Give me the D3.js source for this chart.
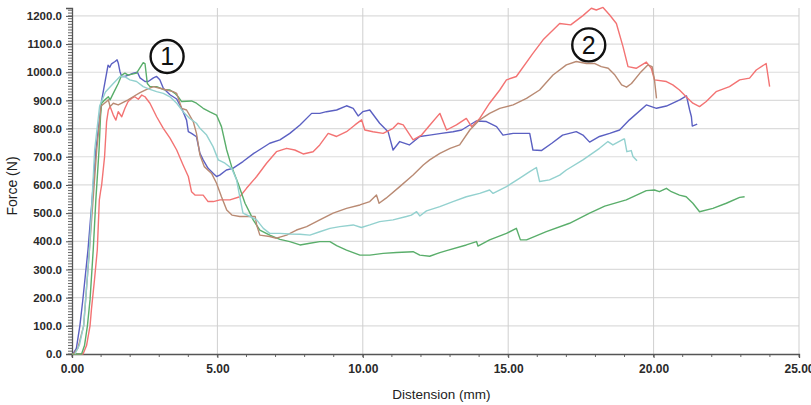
<!DOCTYPE html>
<html>
<head>
<meta charset="utf-8">
<script src="https://cdn.jsdelivr.net/npm/d3@7"></script>
<style>
  body { margin: 0; background: #fff; }
  svg text { font-family: "Liberation Sans Narrow", "Liberation Sans", Arial, sans-serif; }
</style>
</head>
<body>
<div id="chart"></div>
<script>
// distension (mm), force (N)
const blueData = [[0.03,0],[0.15,20],[0.27,100],[0.37,190],[0.55,370],[0.69,547],[0.82,725],[1.02,900],[1.24,1025],[1.3,1018],[1.36,1030],[1.48,1038],[1.55,1044],[1.59,1033],[1.65,1002],[1.71,985],[1.82,985],[1.94,990],[2.11,997],[2.25,1000],[2.34,980],[2.51,967],[2.62,967],[2.8,980],[2.91,985],[3.02,973],[3.14,943],[3.37,920],[3.6,905],[3.77,872],[3.94,830],[4.0,789],[4.11,783],[4.28,771],[4.4,712],[4.51,689],[4.68,659],[4.86,641],[4.97,630],[5.08,635],[5.31,653],[5.53,659],[5.88,683],[6.25,712],[6.8,748],[7.15,760],[7.49,783],[7.84,813],[8.24,854],[8.52,854],[8.75,860],[9.1,866],[9.44,881],[9.67,872],[9.84,845],[10.0,860],[10.24,866],[10.58,819],[10.87,789],[11.04,724],[11.27,754],[11.6,742],[11.96,772],[12.3,777],[12.7,783],[13.1,789],[13.4,795],[13.9,827],[14.25,825],[14.6,807],[14.82,777],[15.17,783],[15.74,783],[15.85,724],[16.14,722],[16.5,748],[16.87,777],[17.34,789],[17.57,777],[17.8,752],[18.14,772],[18.49,783],[18.83,795],[19.17,831],[19.75,884],[20.1,872],[20.44,880],[20.9,902],[21.13,916],[21.24,866],[21.3,842],[21.33,809],[21.5,816]];

const redData = [[0,0],[0.38,0],[0.5,30],[0.62,100],[0.67,160],[0.77,260],[0.87,370],[0.94,547],[0.99,582],[1.02,600],[1.12,700],[1.19,825],[1.25,866],[1.31,878],[1.42,848],[1.51,830],[1.59,860],[1.71,842],[1.82,872],[1.93,896],[2.05,907],[2.16,913],[2.28,904],[2.4,919],[2.51,913],[2.68,890],[2.91,842],[3.14,801],[3.37,766],[3.6,724],[3.82,671],[4.0,630],[4.11,576],[4.23,564],[4.51,564],[4.68,541],[4.86,541],[5.09,547],[5.43,547],[5.77,558],[6.0,588],[6.35,630],[6.69,677],[7.03,718],[7.38,730],[7.66,724],[7.95,710],[8.29,718],[8.52,742],[8.81,783],[9.1,772],[9.44,789],[9.73,813],[9.96,831],[10.07,795],[10.35,789],[10.7,783],[11.04,801],[11.21,819],[11.39,813],[11.73,760],[12.02,777],[12.36,819],[12.65,854],[12.88,795],[13.22,813],[13.56,836],[13.74,807],[14.02,836],[14.36,890],[14.71,937],[14.94,973],[15.28,985],[15.85,1067],[16.2,1115],[16.77,1173],[17.15,1168],[17.57,1201],[17.86,1227],[18.03,1221],[18.26,1230],[18.49,1203],[18.72,1173],[18.95,1090],[19.12,1020],[19.4,1014],[19.75,1036],[19.92,1014],[20.03,973],[20.44,967],[20.66,955],[20.89,937],[21.18,907],[21.35,890],[21.58,878],[21.81,896],[22.15,931],[22.61,949],[22.96,973],[23.3,979],[23.53,1008],[23.87,1031],[23.99,949]];

const greenData = [[0,0],[0.33,0],[0.43,30],[0.53,100],[0.62,192],[0.73,370],[0.82,547],[0.93,725],[0.98,842],[1.02,890],[1.13,902],[1.25,913],[1.31,902],[1.42,925],[1.59,960],[1.71,990],[1.82,997],[1.93,990],[2.22,997],[2.4,1026],[2.45,1034],[2.51,1031],[2.59,960],[2.68,949],[2.91,949],[3.14,939],[3.37,937],[3.54,925],[3.65,913],[3.77,896],[4.11,898],[4.28,890],[4.51,872],[4.74,859],[4.97,848],[5.14,807],[5.32,724],[5.49,665],[5.71,606],[5.95,535],[6.12,500],[6.23,476],[6.46,440],[6.8,422],[7.15,407],[7.49,399],[7.84,387],[8.18,393],[8.52,399],[8.87,399],[9.1,385],[9.44,369],[9.9,351],[10.24,351],[10.7,357],[11.16,360],[11.73,363],[11.96,351],[12.3,347],[12.65,360],[12.88,367],[13.56,387],[13.91,399],[13.96,383],[14.36,405],[14.94,428],[15.28,446],[15.42,405],[15.63,405],[16.31,434],[17.11,464],[17.8,500],[18.32,525],[19.06,547],[19.75,580],[20.03,582],[20.2,576],[20.44,588],[20.61,576],[20.89,564],[21.12,558],[21.35,535],[21.58,505],[22.04,517],[22.5,535],[22.96,556],[23.13,558]];

const brownData = [[0.05,0],[0.2,20],[0.4,100],[0.6,370],[0.85,725],[1.0,880],[1.19,896],[1.25,902],[1.31,878],[1.42,890],[1.59,884],[1.76,893],[1.93,902],[2.1,913],[2.34,928],[2.57,939],[2.8,949],[3.02,943],[3.25,937],[3.48,931],[3.6,925],[3.77,872],[3.94,866],[4.17,825],[4.28,783],[4.4,706],[4.55,665],[4.8,641],[4.97,606],[5.14,558],[5.32,511],[5.5,493],[5.77,488],[6.0,488],[6.3,488],[6.35,458],[6.46,422],[6.8,417],[7.03,411],[7.38,422],[7.72,440],[8.07,452],[8.52,476],[8.98,500],[9.44,517],[9.9,529],[10.24,541],[10.47,564],[10.56,535],[10.8,553],[11.27,594],[11.73,635],[12.08,671],[12.3,689],[12.65,712],[13.0,730],[13.33,742],[13.68,795],[14.02,831],[14.36,854],[14.71,872],[15.17,884],[15.63,907],[16.08,937],[16.54,990],[17.0,1026],[17.34,1038],[17.69,1031],[17.98,1031],[18.2,1020],[18.44,1014],[18.67,990],[18.9,955],[19.07,947],[19.24,960],[19.53,997],[19.8,1026],[19.95,1020],[20.03,973],[20.1,907]];

const tealData = [[0.1,0],[0.25,30],[0.4,100],[0.6,370],[0.78,725],[0.95,880],[1.15,930],[1.42,960],[1.65,985],[1.8,985],[1.99,973],[2.22,967],[2.45,949],[2.68,939],[2.91,931],[3.14,925],[3.37,913],[3.6,890],[3.82,860],[4.05,836],[4.28,819],[4.4,801],[4.63,777],[4.85,736],[5.03,689],[5.26,677],[5.49,659],[5.66,618],[5.77,558],[5.88,500],[6.12,488],[6.35,476],[6.58,446],[6.8,428],[7.15,428],[7.49,426],[7.84,425],[8.18,422],[8.52,434],[8.87,446],[9.21,452],[9.67,458],[9.95,449],[10.24,458],[10.58,470],[11.04,476],[11.5,488],[11.67,493],[11.85,505],[11.96,490],[12.19,508],[12.65,523],[13.1,541],[13.56,558],[14.02,570],[14.36,582],[14.48,570],[14.94,594],[15.4,624],[15.74,647],[15.97,662],[16.08,612],[16.42,618],[16.77,635],[17.0,653],[17.57,689],[18.14,730],[18.43,754],[18.6,742],[18.95,762],[19.0,763],[19.08,718],[19.23,722],[19.29,701],[19.43,686]];

const seriesNames = ['blue', 'red', 'green', 'brown', 'teal'];
const seriesColors = ['#5b60c2', '#f37373', '#5aae6b', '#b98a73', '#93d1cf'];
const xTicks = [0, 5, 10, 15, 20, 25];
const yTicks = [0, 100, 200, 300, 400, 500, 600, 700, 800, 900, 1000, 1100, 1200];
const notes = [{ label: '1', x: 3.27, y: 1056 }, { label: '2', x: 17.77, y: 1097 }];

const margin = { top: 8, right: 12, bottom: 51, left: 72 };
const W = 811, H = 405;
const width = W - margin.left - margin.right;
const height = H - margin.top - margin.bottom;

const svg = d3.select('#chart').append('svg')
  .attr('width', W)
  .attr('height', H);

const g = svg.append('g')
  .attr('transform', `translate(${margin.left},${margin.top})`);

const x = d3.scaleLinear().domain([0, 25]).range([0, width]);
const y = d3.scaleLinear().domain([0, 1228]).range([height, 0]);

// grid
g.append('g').selectAll('line').data(yTicks.slice(1)).enter().append('line')
  .attr('x1', 0).attr('x2', width)
  .attr('y1', d => y(d)).attr('y2', d => y(d))
  .attr('stroke', '#dcdcdc').attr('stroke-width', 1.2);
g.append('g').selectAll('line').data(xTicks.slice(1)).enter().append('line')
  .attr('x1', d => x(d)).attr('x2', d => x(d))
  .attr('y1', 0).attr('y2', height)
  .attr('stroke', '#cfcfcf').attr('stroke-width', 1);

// minor ticks
g.append('g').selectAll('line').data(d3.range(0, 1221, 10)).enter().append('line')
  .attr('x1', -4).attr('x2', 0)
  .attr('y1', d => y(d)).attr('y2', d => y(d))
  .attr('stroke', '#666').attr('stroke-width', 1);
g.append('g').selectAll('line').data(d3.range(0, 26, 1)).enter().append('line')
  .attr('x1', d => x(d)).attr('x2', d => x(d))
  .attr('y1', height).attr('y2', height + 3)
  .attr('stroke', '#666').attr('stroke-width', 1);

// axes
const xAxis = g.append('g')
  .attr('transform', `translate(0,${height})`)
  .call(d3.axisBottom(x).tickValues(xTicks).tickFormat(d3.format('.2f')).tickSize(4).tickPadding(6));
const yAxis = g.append('g')
  .call(d3.axisLeft(y).tickValues(yTicks).tickFormat(d3.format('.1f')).tickSize(6).tickPadding(4));
[xAxis, yAxis].forEach(a => {
  a.select('.domain').attr('stroke', '#555').attr('stroke-width', 1.3);
  a.selectAll('.tick line').attr('stroke', '#555');
  a.selectAll('.tick text').attr('fill', '#2a2a2a').style('font-size', '12px').style('font-weight', 'bold');
});
yAxis.selectAll('.tick text').style('font-size', '11.5px');

// series
const line = d3.line().x(d => x(d[0])).y(d => y(d[1]));
const allData = [blueData, redData, greenData, brownData, tealData];
g.append('g').selectAll('path').data(allData).enter().append('path')
  .attr('class', (d, i) => 'series ' + seriesNames[i])
  .attr('d', line)
  .attr('fill', 'none')
  .attr('stroke', (d, i) => seriesColors[i])
  .attr('stroke-width', 1.4)
  .attr('stroke-linejoin', 'round');

// circled markers
const note = g.append('g').selectAll('g').data(notes).enter().append('g')
  .attr('transform', d => `translate(${x(d.x)},${y(d.y)})`);
note.append('circle').attr('r', 16.5)
  .attr('fill', 'none').attr('stroke', '#111').attr('stroke-width', 2.4);
note.append('text').text(d => d.label)
  .attr('text-anchor', 'middle').attr('dy', '0.36em')
  .style('font-family', '"Liberation Sans", Arial, sans-serif')
  .style('font-size', '25px').attr('fill', '#111');

// axis titles
svg.append('text')
  .attr('x', margin.left + x(12.7)).attr('y', 399)
  .attr('text-anchor', 'middle')
  .style('font-size', '13.5px').attr('fill', '#222')
  .text('Distension (mm)');
svg.append('text')
  .attr('transform', `translate(17,186) rotate(-90)`)
  .attr('text-anchor', 'middle')
  .style('font-size', '14px').attr('fill', '#222')
  .text('Force (N)');
</script>
</body>
</html>
